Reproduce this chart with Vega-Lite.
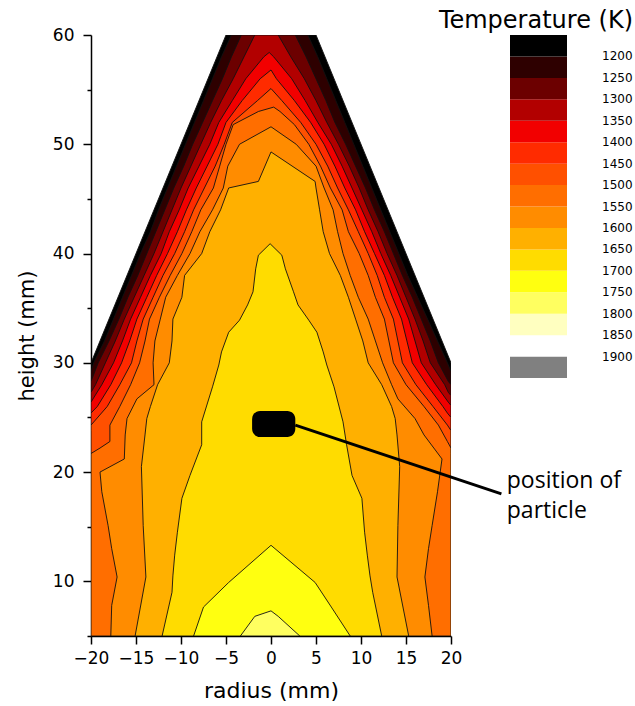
{
  "$schema": "https://vega.github.io/schema/vega-lite/v6.json",
  "width": 360,
  "height": 601,
  "padding": {"left": 16, "top": 9, "right": 2, "bottom": 2},
  "title": {"text": "Temperature (K)", "anchor": "end", "frame": "bounds", "font": "DejaVu Sans", "fontSize": 24, "fontWeight": "normal", "color": "#000", "offset": 0, "dy": 7},
  "config": {"view": {"stroke": null}},
  "datasets": {
    "contours": [
      {"t":1175,"y":5,"l":-20,"r":20},{"t":1175,"y":30,"l":-20,"r":20},{"t":1175,"y":60,"l":-5,"r":5},
      {"t":1225,"y":5,"l":-20,"r":20},{"t":1225,"y":29.2,"l":-20,"r":20},{"t":1225,"y":30,"l":-19.7,"r":19.6},{"t":1225,"y":32,"l":-18.5,"r":18.5},{"t":1225,"y":34,"l":-17.5,"r":17.4},{"t":1225,"y":36,"l":-16.5,"r":16.3},{"t":1225,"y":38,"l":-15.5,"r":15.2},{"t":1225,"y":40,"l":-14.5,"r":14.2},{"t":1225,"y":42,"l":-13.4,"r":13.2},{"t":1225,"y":44,"l":-12.5,"r":12.2},{"t":1225,"y":46,"l":-11.5,"r":11.2},{"t":1225,"y":48,"l":-10.5,"r":10.2},{"t":1225,"y":50,"l":-9.5,"r":9.2},{"t":1225,"y":52,"l":-8.5,"r":8.2},{"t":1225,"y":54,"l":-7.5,"r":7.2},{"t":1225,"y":56,"l":-6.5,"r":6.2},{"t":1225,"y":58,"l":-5.5,"r":5.2},{"t":1225,"y":60,"l":-4.4,"r":4.1},
      {"t":1275,"y":5,"l":-20,"r":20},{"t":1275,"y":28,"l":-20,"r":20},{"t":1275,"y":28.3,"l":-20,"r":19.7},{"t":1275,"y":30,"l":-19.2,"r":18.6},{"t":1275,"y":32,"l":-18.0,"r":17.7},{"t":1275,"y":34,"l":-16.9,"r":16.7},{"t":1275,"y":36,"l":-15.9,"r":15.7},{"t":1275,"y":38,"l":-14.8,"r":14.6},{"t":1275,"y":40,"l":-13.8,"r":13.6},{"t":1275,"y":42,"l":-12.8,"r":12.6},{"t":1275,"y":44,"l":-11.8,"r":11.5},{"t":1275,"y":46,"l":-10.8,"r":10.5},{"t":1275,"y":48,"l":-9.7,"r":9.4},{"t":1275,"y":50,"l":-8.7,"r":8.3},{"t":1275,"y":52,"l":-7.6,"r":7.1},{"t":1275,"y":54,"l":-6.5,"r":6.1},{"t":1275,"y":56,"l":-5.4,"r":5.0},{"t":1275,"y":58,"l":-4.4,"r":3.9},{"t":1275,"y":60,"l":-3.3,"r":2.7},
      {"t":1325,"y":5,"l":-20,"r":20},{"t":1325,"y":27,"l":-20,"r":20},{"t":1325,"y":27.3,"l":-20,"r":19.7},{"t":1325,"y":28,"l":-19.5,"r":19.3},{"t":1325,"y":30,"l":-18.4,"r":17.7},{"t":1325,"y":32,"l":-17.3,"r":16.9},{"t":1325,"y":34,"l":-16.3,"r":16.0},{"t":1325,"y":36,"l":-15.2,"r":15.0},{"t":1325,"y":38,"l":-14.1,"r":14.0},{"t":1325,"y":40,"l":-13.0,"r":12.9},{"t":1325,"y":42,"l":-12.0,"r":11.9},{"t":1325,"y":44,"l":-11.0,"r":10.8},{"t":1325,"y":46,"l":-10.0,"r":9.8},{"t":1325,"y":48,"l":-8.9,"r":8.7},{"t":1325,"y":50,"l":-7.8,"r":7.5},{"t":1325,"y":52,"l":-6.7,"r":6.2},{"t":1325,"y":54,"l":-5.5,"r":5.0},{"t":1325,"y":56,"l":-4.2,"r":3.7},{"t":1325,"y":58,"l":-3.0,"r":2.2},{"t":1325,"y":60,"l":-1.8,"r":0.8},
      {"t":1375,"y":5,"l":-20,"r":20},{"t":1375,"y":26.1,"l":-20,"r":20},{"t":1375,"y":26.4,"l":-20,"r":19.7},{"t":1375,"y":28,"l":-18.8,"r":18.3},{"t":1375,"y":30,"l":-17.5,"r":16.7},{"t":1375,"y":32,"l":-16.5,"r":16.0},{"t":1375,"y":34,"l":-15.6,"r":15.3},{"t":1375,"y":36,"l":-14.5,"r":14.3},{"t":1375,"y":38,"l":-13.4,"r":13.3},{"t":1375,"y":40,"l":-12.2,"r":12.2},{"t":1375,"y":42,"l":-11.3,"r":11.2},{"t":1375,"y":44,"l":-10.2,"r":10.1},{"t":1375,"y":46,"l":-9.2,"r":9.0},{"t":1375,"y":48,"l":-8.0,"r":7.9},{"t":1375,"y":50,"l":-6.8,"r":6.7},{"t":1375,"y":52,"l":-5.8,"r":5.2},{"t":1375,"y":54,"l":-4.3,"r":3.8},{"t":1375,"y":56,"l":-2.8,"r":2.3},{"t":1375,"y":58,"l":-0.8,"r":0.3},{"t":1375,"y":58.4,"l":-0.2,"r":-0.2},
      {"t":1425,"y":5,"l":-20,"r":20},{"t":1425,"y":25,"l":-20,"r":20},{"t":1425,"y":25.4,"l":-20,"r":19.6},{"t":1425,"y":26,"l":-19.3,"r":19.1},{"t":1425,"y":28,"l":-17.8,"r":17.3},{"t":1425,"y":30,"l":-16.6,"r":15.7},{"t":1425,"y":32,"l":-15.7,"r":15.1},{"t":1425,"y":34,"l":-14.9,"r":14.5},{"t":1425,"y":36,"l":-13.8,"r":13.5},{"t":1425,"y":38,"l":-12.7,"r":12.6},{"t":1425,"y":40,"l":-11.5,"r":11.5},{"t":1425,"y":42,"l":-10.4,"r":10.4},{"t":1425,"y":44,"l":-9.4,"r":9.4},{"t":1425,"y":46,"l":-8.3,"r":8.2},{"t":1425,"y":48,"l":-7.1,"r":7.1},{"t":1425,"y":50,"l":-5.9,"r":5.9},{"t":1425,"y":52,"l":-5.0,"r":4.4},{"t":1425,"y":54,"l":-3.2,"r":2.6},{"t":1425,"y":56,"l":-1.2,"r":0.6},{"t":1425,"y":56.8,"l":0,"r":0},
      {"t":1475,"y":5,"l":-20,"r":20},{"t":1475,"y":23.8,"l":-20,"r":20},{"t":1475,"y":24.3,"l":-20,"r":19.6},{"t":1475,"y":26,"l":-18.2,"r":18.0},{"t":1475,"y":28,"l":-16.8,"r":16.1},{"t":1475,"y":30,"l":-15.5,"r":14.6},{"t":1475,"y":32,"l":-14.9,"r":14.1},{"t":1475,"y":34,"l":-14.2,"r":13.6},{"t":1475,"y":36,"l":-13.1,"r":12.6},{"t":1475,"y":38,"l":-12.0,"r":11.8},{"t":1475,"y":40,"l":-10.7,"r":10.8},{"t":1475,"y":42,"l":-9.6,"r":9.7},{"t":1475,"y":44,"l":-8.6,"r":8.6},{"t":1475,"y":46,"l":-7.4,"r":7.4},{"t":1475,"y":48,"l":-6.2,"r":6.3},{"t":1475,"y":50,"l":-5.2,"r":5.0},{"t":1475,"y":52,"l":-4.3,"r":3.3},{"t":1475,"y":54,"l":-1.5,"r":1.2},{"t":1475,"y":55.1,"l":0,"r":0},
      {"t":1525,"y":5,"l":-20,"r":20},{"t":1525,"y":21.7,"l":-20,"r":20},{"t":1525,"y":22.2,"l":-19.0,"r":20},{"t":1525,"y":22.8,"l":-17.9,"r":19.6},{"t":1525,"y":24.3,"l":-17.9,"r":18.6},{"t":1525,"y":26,"l":-16.8,"r":17.0},{"t":1525,"y":28,"l":-15.6,"r":15.0},{"t":1525,"y":30,"l":-14.6,"r":13.6},{"t":1525,"y":32,"l":-14.0,"r":13.1},{"t":1525,"y":34,"l":-13.5,"r":12.6},{"t":1525,"y":36,"l":-12.4,"r":11.6},{"t":1525,"y":38,"l":-11.2,"r":10.8},{"t":1525,"y":40,"l":-9.9,"r":9.8},{"t":1525,"y":42,"l":-8.8,"r":8.6},{"t":1525,"y":44,"l":-7.8,"r":7.9},{"t":1525,"y":46,"l":-6.4,"r":6.6},{"t":1525,"y":48,"l":-5.7,"r":5.5},{"t":1525,"y":50,"l":-5.0,"r":4.2},{"t":1525,"y":51.8,"l":-4.2,"r":2.6},{"t":1525,"y":53,"l":-1.4,"r":1.0},{"t":1525,"y":53.4,"l":0.3,"r":0.3},
      {"t":1575,"y":5,"l":-17.8,"r":17.9},{"t":1575,"y":7.8,"l":-17.7,"r":17.5},{"t":1575,"y":10.4,"l":-17.1,"r":17.1},{"t":1575,"y":13,"l":-17.7,"r":17.5},{"t":1575,"y":15.1,"l":-18.1,"r":17.9},{"t":1575,"y":18.2,"l":-18.8,"r":18.5},{"t":1575,"y":20,"l":-19.0,"r":18.8},{"t":1575,"y":21.2,"l":-16.3,"r":19.0},{"t":1575,"y":23.4,"l":-16.2,"r":17.0},{"t":1575,"y":24.9,"l":-16.0,"r":16.0},{"t":1575,"y":26.7,"l":-14.9,"r":14.1},{"t":1575,"y":28,"l":-13.0,"r":13.4},{"t":1575,"y":30,"l":-13.1,"r":12.4},{"t":1575,"y":32,"l":-12.9,"r":11.6},{"t":1575,"y":34,"l":-12.3,"r":10.8},{"t":1575,"y":36,"l":-11.7,"r":9.7},{"t":1575,"y":38,"l":-10.4,"r":8.8},{"t":1575,"y":40,"l":-9.0,"r":8.0},{"t":1575,"y":42,"l":-7.9,"r":7.4},{"t":1575,"y":44,"l":-6.5,"r":6.9},{"t":1575,"y":46,"l":-5.3,"r":5.9},{"t":1575,"y":48,"l":-4.8,"r":5.0},{"t":1575,"y":50,"l":-3.5,"r":2.8},{"t":1575,"y":51.6,"l":0,"r":0},
      {"t":1625,"y":5,"l":-15.1,"r":15.3},{"t":1625,"y":10.4,"l":-13.9,"r":14.0},{"t":1625,"y":15.1,"l":-14.2,"r":14.1},{"t":1625,"y":20.5,"l":-14.4,"r":14.3},{"t":1625,"y":23.4,"l":-14.0,"r":14.0},{"t":1625,"y":24.9,"l":-13.8,"r":13.8},{"t":1625,"y":26,"l":-13.4,"r":13.4},{"t":1625,"y":28,"l":-12.6,"r":12.3},{"t":1625,"y":30,"l":-11.3,"r":10.8},{"t":1625,"y":32,"l":-11.0,"r":10.2},{"t":1625,"y":34,"l":-10.9,"r":9.4},{"t":1625,"y":36,"l":-9.9,"r":8.6},{"t":1625,"y":38,"l":-9.6,"r":7.7},{"t":1625,"y":40,"l":-7.7,"r":6.5},{"t":1625,"y":42,"l":-6.8,"r":5.8},{"t":1625,"y":44,"l":-5.6,"r":5.4},{"t":1625,"y":46,"l":-4.7,"r":5.0},{"t":1625,"y":46.6,"l":-1.4,"r":4.9},{"t":1625,"y":49.3,"l":0,"r":0},
      {"t":1675,"y":5,"l":-12.1,"r":12.3},{"t":1675,"y":9,"l":-11.0,"r":11.3},{"t":1675,"y":10.5,"l":-10.9,"r":11.0},{"t":1675,"y":12.4,"l":-10.7,"r":10.7},{"t":1675,"y":14.5,"l":-10.4,"r":10.4},{"t":1675,"y":17.6,"l":-9.9,"r":10.1},{"t":1675,"y":19.7,"l":-9.0,"r":9.0},{"t":1675,"y":22.5,"l":-7.7,"r":8.4},{"t":1675,"y":24.6,"l":-7.7,"r":8.0},{"t":1675,"y":27.8,"l":-6.5,"r":7.0},{"t":1675,"y":29.8,"l":-5.8,"r":6.2},{"t":1675,"y":31,"l":-5.5,"r":5.8},{"t":1675,"y":32.8,"l":-4.7,"r":5.1},{"t":1675,"y":33.9,"l":-3.5,"r":4.2},{"t":1675,"y":35.3,"l":-2.6,"r":3.0},{"t":1675,"y":36.5,"l":-2.0,"r":2.5},{"t":1675,"y":38.6,"l":-1.7,"r":1.6},{"t":1675,"y":39.85,"l":-1.4,"r":1.2},{"t":1675,"y":40.9,"l":-0.1,"r":-0.1},
      {"t":1725,"y":5,"l":-8.6,"r":8.8},{"t":1725,"y":7.65,"l":-7.5,"r":6.7},{"t":1725,"y":9.9,"l":-4.7,"r":4.9},{"t":1725,"y":13.3,"l":0,"r":0},
      {"t":1775,"y":5,"l":-3.4,"r":3.2},{"t":1775,"y":6.8,"l":-1.8,"r":0.8},{"t":1775,"y":7.3,"l":0,"r":0}
    ]
  },
  "layer": [
    {
      "data": {"name": "contours"},
      "transform": [{"calculate": "-datum.t", "as": "nt"}],
      "mark": {"type": "area", "orient": "horizontal", "stroke": "#111", "strokeWidth": 0.9, "clip": true},
      "encoding": {
        "y": {"field": "y", "type": "quantitative", "scale": {"domain": [5, 60], "nice": false, "zero": false},
          "axis": {"values": [5,10,15,20,25,30,35,40,45,50,55,60], "labelExpr": "datum.value % 10 === 0 ? datum.label : ''",
            "tickSize": {"condition": {"test": "datum.value % 10 === 0", "value": 8}, "value": 4},
            "title": "height (mm)", "grid": false, "tickWidth": 1.5, "tickColor": "#000", "domainColor": "#000", "domainWidth": 1.5,
            "labelFont": "DejaVu Sans", "labelFontSize": 17, "labelColor": "#000", "labelPadding": 9,
            "titleFont": "DejaVu Sans", "titleFontSize": 21, "titleFontWeight": "normal", "titleColor": "#000", "titlePadding": 15}},
        "x": {"field": "l", "type": "quantitative", "scale": {"domain": [-20, 20], "nice": false, "zero": false},
          "axis": {"values": [-20,-15,-10,-5,0,5,10,15,20], "title": "radius (mm)", "grid": false, "labelFlush": false,
            "tickSize": 8, "tickWidth": 1.5, "tickColor": "#000", "domainColor": "#000", "domainWidth": 1.5,
            "labelFont": "DejaVu Sans", "labelFontSize": 17, "labelColor": "#000", "labelPadding": 6,
            "titleFont": "DejaVu Sans", "titleFontSize": 22, "titleFontWeight": "normal", "titleColor": "#000", "titlePadding": 14}},
        "x2": {"field": "r"},
        "detail": {"field": "t", "type": "quantitative"},
        "color": {"field": "nt", "type": "quantitative",
          "scale": {"type": "threshold", "domain": [-1900,-1850,-1800,-1750,-1700,-1650,-1600,-1550,-1500,-1450,-1400,-1350,-1300,-1250,-1200],
            "range": ["#808080","#ffffff","#ffffc0","#ffff60","#ffff10","#ffdc00","#ffb000","#ff8c00","#ff6e00","#ff5000","#ff2b00","#f20000","#b20000","#6c0000","#2e0000","#000000"]},
          "legend": {"type": "gradient", "direction": "vertical", "orient": "right", "offset": 59, "title": null,
            "gradientLength": 343, "gradientThickness": 57, "gradientStrokeWidth": 0,
            "labelFont": "DejaVu Sans", "labelFontSize": 12, "labelColor": "#000", "labelOffset": 35, "labelBaseline": "middle",
            "labelOverlap": false, "labelExpr": "isFinite(datum.value) ? format(-datum.value, 'd') : ''"}}
      }
    },
    {
      "data": {"values": [{"x1": -2.1, "x2": 2.7, "y1": 23.2, "y2": 25.6}]},
      "mark": {"type": "rect", "color": "#000", "cornerRadius": 8},
      "encoding": {
        "x": {"field": "x1", "type": "quantitative", "scale": {"domain": [-20, 20], "nice": false, "zero": false}},
        "x2": {"field": "x2"},
        "y": {"field": "y1", "type": "quantitative", "scale": {"domain": [5, 60], "nice": false, "zero": false}},
        "y2": {"field": "y2"}
      }
    },
    {
      "data": {"values": [{"a": 2.7, "b": 24.3, "a2": 25.6, "b2": 18.0}]},
      "mark": {"type": "rule", "color": "#000", "strokeWidth": 3},
      "encoding": {
        "x": {"field": "a", "type": "quantitative", "scale": {"domain": [-20, 20], "nice": false, "zero": false}},
        "x2": {"field": "a2"},
        "y": {"field": "b", "type": "quantitative", "scale": {"domain": [5, 60], "nice": false, "zero": false}},
        "y2": {"field": "b2"}
      }
    },
    {
      "data": {"values": [{"tx": 26.2, "ty": 18.5, "label": "position of"}, {"tx": 26.2, "ty": 15.8, "label": "particle"}]},
      "mark": {"type": "text", "align": "left", "baseline": "alphabetic", "font": "Open Sans", "fontSize": 23, "color": "#000"},
      "encoding": {
        "x": {"field": "tx", "type": "quantitative", "scale": {"domain": [-20, 20], "nice": false, "zero": false}},
        "y": {"field": "ty", "type": "quantitative", "scale": {"domain": [5, 60], "nice": false, "zero": false}},
        "text": {"field": "label"}
      }
    }
  ]
}
